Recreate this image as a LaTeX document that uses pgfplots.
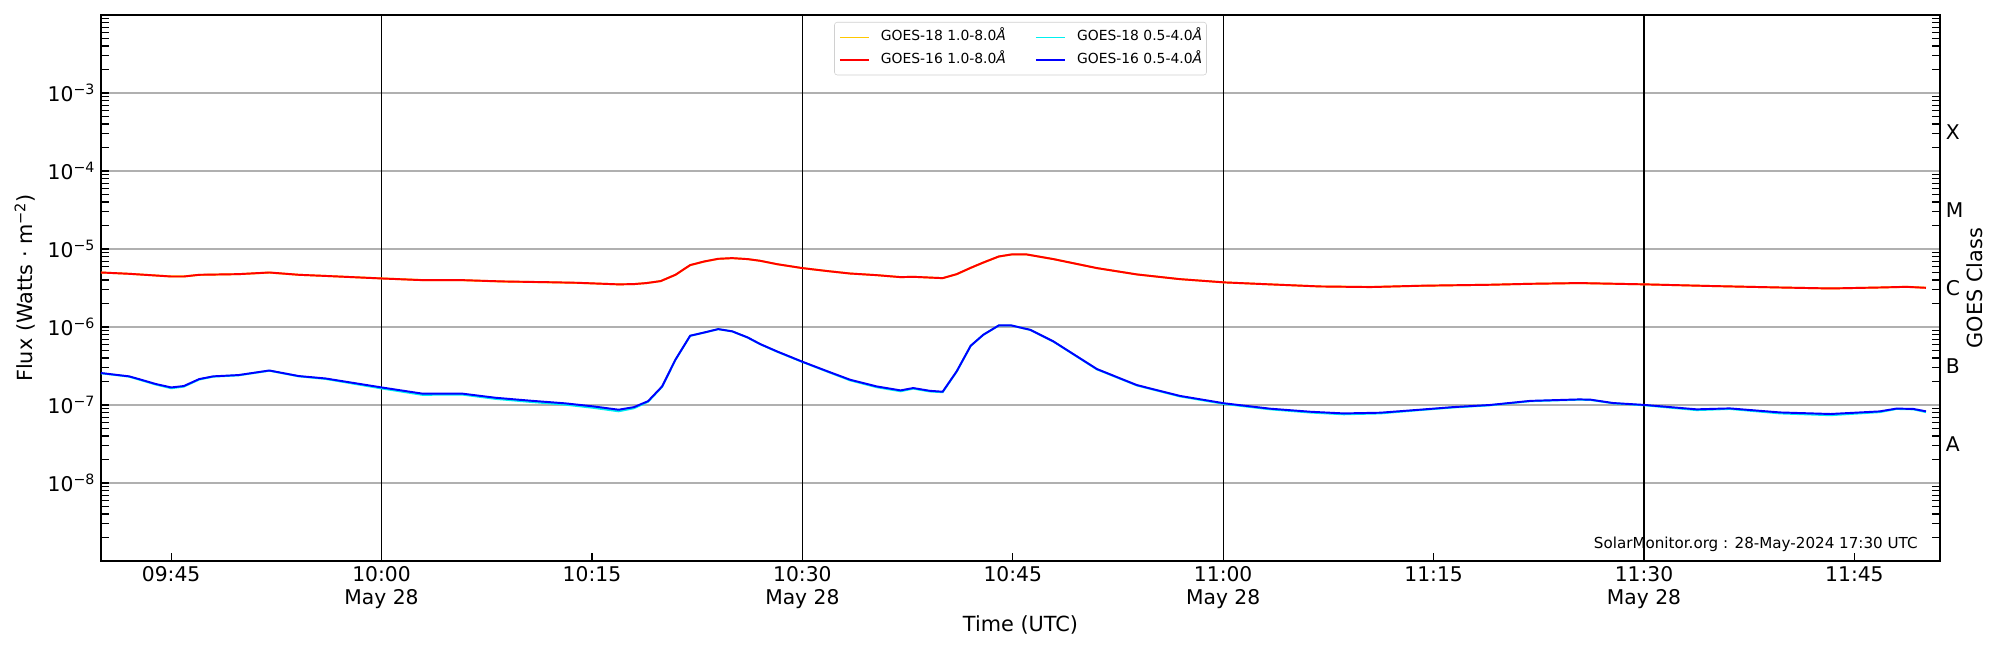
\documentclass[border=0pt]{standalone}
\usepackage{fontspec}
\setmainfont{DejaVu Sans}
\usepackage{pgfplots}
\pgfplotsset{compat=1.18}
\usepackage{pgfplotstable}

\definecolor{gXVIIIlong}{HTML}{FFC800}
\definecolor{gXVIIIshort}{HTML}{00F0F0}
\definecolor{gXVIlong}{HTML}{FF0000}
\definecolor{gXVIshort}{HTML}{0000FF}
\definecolor{gridgray}{HTML}{B0B0B0}
\definecolor{legframe}{HTML}{D0D0D0}

\newcommand{\logminors}{2e-9,3e-9,4e-9,5e-9,6e-9,7e-9,8e-9,9e-9,
                 2e-8,3e-8,4e-8,5e-8,6e-8,7e-8,8e-8,9e-8,
                 2e-7,3e-7,4e-7,5e-7,6e-7,7e-7,8e-7,9e-7,
                 2e-6,3e-6,4e-6,5e-6,6e-6,7e-6,8e-6,9e-6,
                 2e-5,3e-5,4e-5,5e-5,6e-5,7e-5,8e-5,9e-5,
                 2e-4,3e-4,4e-4,5e-4,6e-4,7e-4,8e-4,9e-4,
                 2e-3,3e-3,4e-3,5e-3,6e-3,7e-3,8e-3,9e-3}

% time in minutes after 09:40 UTC, 28 May 2024
\pgfplotstableread{
t flux
0.0 5.00e-6
2.0 4.81e-6
5.0 4.45e-6
5.9 4.45e-6
7.0 4.66e-6
9.8 4.76e-6
12.0 4.98e-6
14.1 4.67e-6
16.2 4.50e-6
20.0 4.20e-6
22.9 4.00e-6
25.75 3.98e-6
28.6 3.83e-6
32.0 3.74e-6
33.95 3.68e-6
36.9 3.52e-6
38.0 3.55e-6
38.9 3.66e-6
39.9 3.88e-6
40.95 4.66e-6
42.0 6.20e-6
43.0 6.90e-6
44.0 7.47e-6
45.0 7.63e-6
46.1 7.42e-6
47.0 7.05e-6
48.2 6.38e-6
50.0 5.69e-6
51.8 5.21e-6
53.4 4.85e-6
55.3 4.62e-6
57.0 4.36e-6
57.9 4.40e-6
60.0 4.23e-6
61.0 4.75e-6
62.0 5.72e-6
62.9 6.70e-6
64.0 8.00e-6
64.9 8.50e-6
66.0 8.50e-6
67.9 7.42e-6
71.0 5.69e-6
73.85 4.72e-6
76.9 4.11e-6
80.1 3.73e-6
83.35 3.52e-6
86.9 3.31e-6
90.5 3.26e-6
94.0 3.37e-6
96.0 3.42e-6
99.0 3.48e-6
101.9 3.58e-6
105.4 3.65e-6
110.1 3.52e-6
114.9 3.35e-6
119.7 3.21e-6
123.3 3.12e-6
126.8 3.21e-6
128.7 3.28e-6
130.1 3.19e-6
}\gXVIIIlongtab

\pgfplotstableread{
t flux
0.0 5.00e-6
2.0 4.81e-6
5.0 4.44e-6
5.9 4.44e-6
7.0 4.67e-6
9.8 4.76e-6
12.0 5.00e-6
14.1 4.67e-6
16.2 4.50e-6
20.0 4.19e-6
22.9 3.99e-6
25.75 3.99e-6
28.6 3.84e-6
32.0 3.75e-6
33.95 3.69e-6
36.9 3.52e-6
38.0 3.55e-6
38.9 3.66e-6
39.9 3.88e-6
40.95 4.67e-6
42.0 6.22e-6
43.0 6.92e-6
44.0 7.49e-6
45.0 7.64e-6
46.1 7.42e-6
47.0 7.06e-6
48.2 6.39e-6
50.0 5.69e-6
51.8 5.21e-6
53.4 4.85e-6
55.3 4.62e-6
57.0 4.36e-6
57.9 4.40e-6
60.0 4.23e-6
61.0 4.76e-6
62.0 5.74e-6
62.9 6.71e-6
64.0 8.02e-6
64.9 8.51e-6
66.0 8.51e-6
67.9 7.42e-6
71.0 5.69e-6
73.85 4.72e-6
76.9 4.11e-6
80.1 3.73e-6
83.35 3.52e-6
86.9 3.31e-6
90.5 3.25e-6
94.0 3.38e-6
96.0 3.42e-6
99.0 3.48e-6
101.9 3.58e-6
105.4 3.66e-6
110.1 3.52e-6
114.9 3.35e-6
119.7 3.21e-6
123.3 3.12e-6
126.8 3.21e-6
128.7 3.27e-6
130.1 3.18e-6
}\gXVIlongtab

\pgfplotstableread{
t flux
0.0 2.55e-7
2.0 2.31e-7
2.7 2.12e-7
3.9 1.83e-7
5.0 1.64e-7
5.9 1.72e-7
7.0 2.12e-7
8.0 2.31e-7
9.8 2.40e-7
12.0 2.75e-7
14.1 2.33e-7
16.0 2.16e-7
20.0 1.63e-7
22.9 1.35e-7
25.75 1.36e-7
28.1 1.20e-7
30.5 1.10e-7
33.1 1.01e-7
35.1 9.2e-8
36.9 8.3e-8
38.0 9.1e-8
39.0 1.10e-7
40.0 1.71e-7
40.95 3.79e-7
42.0 7.70e-7
43.0 8.48e-7
44.0 9.38e-7
45.0 8.78e-7
46.1 7.32e-7
47.0 6.00e-7
48.2 4.82e-7
50.0 3.56e-7
51.8 2.67e-7
53.4 2.07e-7
55.3 1.69e-7
57.0 1.50e-7
57.9 1.62e-7
59.1 1.49e-7
60.0 1.46e-7
61.0 2.68e-7
62.0 5.73e-7
62.9 7.94e-7
64.0 1.045e-6
64.9 1.045e-6
66.25 9.18e-7
67.9 6.50e-7
71.0 2.86e-7
73.85 1.78e-7
76.9 1.29e-7
80.1 1.03e-7
83.35 8.8e-8
86.2 8.0e-8
88.6 7.6e-8
91.2 7.8e-8
94.0 8.6e-8
96.4 9.3e-8
99.0 9.9e-8
101.9 1.12e-7
105.4 1.17e-7
106.2 1.16e-7
107.8 1.05e-7
110.1 9.9e-8
113.75 8.6e-8
116.1 8.9e-8
119.7 7.8e-8
123.3 7.4e-8
126.8 8.1e-8
128.0 8.9e-8
129.2 8.8e-8
130.1 8.1e-8
}\gXVIIIshorttab

\pgfplotstableread{
t flux
0.0 2.57e-7
2.0 2.33e-7
2.7 2.15e-7
3.9 1.86e-7
5.0 1.68e-7
5.9 1.75e-7
7.0 2.15e-7
8.0 2.33e-7
9.8 2.42e-7
12.0 2.77e-7
14.1 2.35e-7
16.0 2.19e-7
20.0 1.68e-7
22.9 1.40e-7
25.75 1.40e-7
28.1 1.24e-7
30.5 1.14e-7
33.1 1.05e-7
35.1 9.6e-8
36.9 8.7e-8
38.0 9.4e-8
39.0 1.12e-7
40.0 1.73e-7
40.95 3.81e-7
42.0 7.73e-7
43.0 8.50e-7
44.0 9.40e-7
45.0 8.80e-7
46.1 7.35e-7
47.0 6.04e-7
48.2 4.86e-7
50.0 3.59e-7
51.8 2.70e-7
53.4 2.11e-7
55.3 1.73e-7
57.0 1.54e-7
57.9 1.65e-7
59.1 1.52e-7
60.0 1.48e-7
61.0 2.70e-7
62.0 5.75e-7
62.9 7.96e-7
64.0 1.047e-6
64.9 1.047e-6
66.25 9.20e-7
67.9 6.53e-7
71.0 2.89e-7
73.85 1.80e-7
76.9 1.31e-7
80.1 1.05e-7
83.35 8.97e-8
86.2 8.2e-8
88.6 7.8e-8
91.2 7.97e-8
94.0 8.7e-8
96.4 9.4e-8
99.0 1.00e-7
101.9 1.13e-7
105.4 1.18e-7
106.2 1.17e-7
107.8 1.06e-7
110.1 1.00e-7
113.75 8.8e-8
116.1 9.05e-8
119.7 8.03e-8
123.3 7.67e-8
126.8 8.28e-8
128.0 9.0e-8
129.2 8.9e-8
130.1 8.3e-8
}\gXVIshorttab

\begin{document}
\begin{tikzpicture}
\path[use as bounding box] (-72.72pt,-64.08pt) rectangle (1367.28pt,403.92pt);

\begin{axis}[
  scale only axis, width=1324.08pt, height=393.12pt,
  at={(0pt,0pt)}, anchor=south west,
  xmin=0, xmax=131.1, ymode=log, ymin=1e-9, ymax=1e-2,
  tick align=inside,
  major tick length=5.5pt, minor tick length=5.5pt,
  every tick/.style={black, line width=0.8pt},
  ytick={1e-9,1e-8,1e-7,1e-6,1e-5,1e-4,1e-3,1e-2},
  minor ytick/.expanded={\logminors},
  axis line style={black, line width=1pt},
  xtick pos=bottom, ytick pos=left,
  xtick={5,20,35,50,65,80,95,110,125},
  xticklabels={09:45,{10:00\\May 28},10:15,{10:30\\May 28},10:45,{11:00\\May 28},11:15,{11:30\\May 28},11:45},
  xticklabel style={align=center, anchor=north, inner sep=0pt, yshift=-4pt,
    font=\fontsize{14.6}{16.6}\selectfont},
  yticklabels={,10\textsuperscript{−8},10\textsuperscript{−7},10\textsuperscript{−6},10\textsuperscript{−5},10\textsuperscript{−4},10\textsuperscript{−3},},
  yticklabel style={anchor=east, inner sep=0pt, xshift=-4pt,
    font=\fontsize{14.6}{16.6}\selectfont},
  ymajorgrids=true,
  major grid style={gridgray, line width=0.8pt},
  xlabel={Time (UTC)},
  xlabel style={at={(axis description cs:0.5,-0.117)}, anchor=center,
    font=\fontsize{15}{17}\selectfont},
  ylabel={Flux (Watts · m\textsuperscript{−2})},
  ylabel style={at={(axis description cs:-0.0413,0.5)}, anchor=center,
    font=\fontsize{15}{17}\selectfont},
  legend columns=2,
  legend cell align=left,
  legend style={at={(0.5,1)}, anchor=north, yshift=-5pt,
    draw=legframe, rounded corners=2pt, fill=white,
    font=\fontsize{10}{12}\selectfont,
    inner xsep=3.1pt, inner ysep=6pt, row sep=6pt,
    nodes={inner sep=0pt, text height=7.5pt, text depth=2.5pt},
    /tikz/every odd column/.append style={column sep=7.9pt},
    /tikz/every even column/.append style={column sep=20.9pt}},
  legend image code/.code={\draw[#1] (0pt,0pt) -- (21pt,0pt);},
  every axis plot/.append style={line width=1.4pt},
]
\addplot[black, line width=0.9pt, forget plot] coordinates {(20,1e-9) (20,1e-2)};
\addplot[black, line width=0.9pt, forget plot] coordinates {(50,1e-9) (50,1e-2)};
\addplot[black, line width=0.9pt, forget plot] coordinates {(80,1e-9) (80,1e-2)};
\addplot[black, line width=0.9pt, forget plot] coordinates {(110,1e-9) (110,1e-2)};
\addplot[gXVIIIlong] table[x=t, y=flux] {\gXVIIIlongtab};
\addlegendentry{GOES-18 1.0-8.0\textit{Å}}
\addplot[gXVIIIshort] table[x=t, y=flux] {\gXVIIIshorttab};
\addlegendentry{GOES-18 0.5-4.0\textit{Å}}
\addplot[gXVIlong] table[x=t, y=flux] {\gXVIlongtab};
\addlegendentry{GOES-16 1.0-8.0\textit{Å}}
\addplot[gXVIshort] table[x=t, y=flux] {\gXVIshorttab};
\addlegendentry{GOES-16 0.5-4.0\textit{Å}}

\node[anchor=base east, inner sep=0pt, font=\fontsize{10.9}{12}\selectfont]
  at (axis description cs:0.988,0.022) {SolarMonitor.org : 28-May-2024 17:30 UTC};
\end{axis}

\begin{axis}[
  scale only axis, width=1324.08pt, height=393.12pt,
  at={(0pt,0pt)}, anchor=south west,
  xmin=0, xmax=131.1, ymode=log, ymin=1e-9, ymax=1e-2,
  hide x axis,
  axis y line*=right,
  y axis line style={black, line width=1pt},
  tick align=inside,
  major tick length=0pt, minor tick length=5.5pt,
  every tick/.style={black, line width=0.8pt},
  ytick={3.1623e-8,3.1623e-7,3.1623e-6,3.1623e-5,3.1623e-4},
  yticklabels={A,B,C,M,X},
  minor ytick/.expanded={\logminors},
  yticklabel style={anchor=west, inner sep=0pt, xshift=4pt,
    font=\fontsize{14.6}{16.6}\selectfont},
  ylabel={GOES Class},
  ylabel style={at={(axis description cs:1.019,0.5)}, anchor=center,
    font=\fontsize{15}{17}\selectfont},
]
\end{axis}
\end{tikzpicture}
\end{document}
